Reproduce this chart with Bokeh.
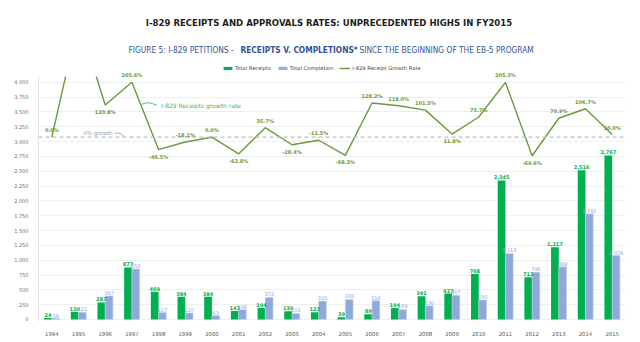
from bokeh.plotting import figure
from bokeh.models import (Range1d, ColumnDataSource, LabelSet, Label, Legend, LegendItem,
                          FixedTicker, NumeralTickFormatter, Span, BoxAnnotation)
from bokeh.transform import dodge
from bokeh.core.properties import value
from bokeh.embed import file_html
from bokeh.resources import INLINE

years = list(range(1994, 2016))
receipts = [24, 130, 287, 877, 469, 384, 384, 143, 194, 139, 123, 39, 89, 194, 391, 437,
            768, 2345, 712, 1217, 2516, 2767]
completions = [16, 121, 397, 853, 117, 110, 63, 166, 372, 102, 310, 338, 316, 169, 230, 407,
               330, 1113, 796, 888, 1781, 1078]
growth = [0.0, 441.7, 120.8, 205.6, -46.5, -18.1, 0.0, -62.8, 35.7, -28.4, -11.5, -68.3,
          128.2, 118.0, 101.5, 11.8, 75.7, 205.3, -69.6, 70.9, 106.7, 10.0]
# which side of the point the growth label sits on (1 above, -1 below, 0 hidden)
growth_side = [1, 0, -1, 1, -1, 1, 1, -1, 1, -1, 1, -1, 1, 1, 1, -1, 1, 1, -1, 1, 1, 1]
y_ticks = list(range(0, 4001, 250))

GREEN = "#00b050"
BLUE = "#8eaadb"
LINE = "#6a9a3e"
FONT = "DejaVu Sans"
NARROW = "DejaVu Sans Condensed"

Y0, Y1 = -34, 5379          # full canvas height is used as the frame
PLOT_TOP = 4098             # visible top of the data area
G0, GS = 3074, 4.5          # growth axis: 0% sits at 3074, 4.5 units per percent

p = figure(width=640, height=342, output_backend="svg", toolbar_location=None,
           x_range=Range1d(1993.5, 2015.5), y_range=Range1d(Y0, Y1),
           min_border_left=38, min_border_right=15, min_border_top=0, min_border_bottom=21)
p.extra_y_ranges = {"growth": Range1d((Y0 - G0) / GS, (Y1 - G0) / GS)}
p.outline_line_color = None
p.background_fill_color = "white"
p.border_fill_color = "white"

src = ColumnDataSource(dict(
    year=years, rec=receipts, comp=completions,
    rec_lbl=[f"{v:,}" for v in receipts], comp_lbl=[f"{v:,}" for v in completions],
))

r_rec = p.vbar(x=dodge("year", -0.145, range=p.x_range), top="rec", width=0.29, source=src,
               fill_color=GREEN, line_color=None)
r_comp = p.vbar(x=dodge("year", 0.145, range=p.x_range), top="comp", width=0.29, source=src,
                fill_color=BLUE, line_color="#c3d1ee", line_width=0.6)

# zero growth dashed reference
p.add_layout(Span(location=0, dimension="width", y_range_name="growth",
                  line_color="#bdbdbd", line_dash="4 3", line_width=1.3))

r_line = p.line(x=years, y=growth, y_range_name="growth", line_color=LINE, line_width=1.4)

# mask everything above the data area (header region)
p.add_layout(BoxAnnotation(bottom=PLOT_TOP, fill_color="white", fill_alpha=1, line_color=None))

p.add_layout(LabelSet(x=dodge("year", -0.145, range=p.x_range), y="rec", text="rec_lbl", source=src,
                      text_align="center", text_baseline="bottom", y_offset=1,
                      text_font=value(FONT), text_font_size="5px", text_font_style="bold",
                      text_color=GREEN))
p.add_layout(LabelSet(x=dodge("year", 0.145, range=p.x_range), y="comp", text="comp_lbl", source=src,
                      text_align="center", text_baseline="bottom", y_offset=1,
                      text_font=value(FONT), text_font_size="5px",
                      text_color="#8ea6d8"))

gsrc_up = ColumnDataSource(dict(
    year=[y for y, s in zip(years, growth_side) if s == 1],
    g=[g for g, s in zip(growth, growth_side) if s == 1],
    t=[f"{g:.1f}%" for g, s in zip(growth, growth_side) if s == 1]))
gsrc_dn = ColumnDataSource(dict(
    year=[y for y, s in zip(years, growth_side) if s == -1],
    g=[g for g, s in zip(growth, growth_side) if s == -1],
    t=[f"{g:.1f}%" for g, s in zip(growth, growth_side) if s == -1]))
for s, off in ((gsrc_up, 7), (gsrc_dn, -7)):
    p.add_layout(LabelSet(x="year", y="g", text="t", source=s, y_range_name="growth",
                          text_align="center", text_baseline="middle", y_offset=off,
                          text_font=value(FONT), text_font_size="5px", text_font_style="bold",
                          text_color=LINE))

# axes
p.yaxis.ticker = FixedTicker(ticks=y_ticks)
p.yaxis.formatter = NumeralTickFormatter(format="0,0")
p.yaxis.bounds = (Y0, PLOT_TOP)
p.yaxis.major_label_text_font = FONT
p.yaxis.major_label_text_font_size = "5px"
p.yaxis.major_label_text_color = "#707070"
p.yaxis.axis_line_color = "#e6e6e6"
p.yaxis.major_tick_line_color = None
p.yaxis.minor_tick_line_color = None
p.yaxis.major_label_standoff = 4

p.xaxis.ticker = FixedTicker(ticks=years)
p.xaxis.major_label_text_font = FONT
p.xaxis.major_label_text_font_size = "5.3px"
p.xaxis.major_label_text_color = "#555555"
p.xaxis.axis_line_color = None
p.xaxis.major_tick_line_color = None
p.xaxis.minor_tick_line_color = None
p.xaxis.major_label_standoff = 4

p.xgrid.grid_line_color = None
p.ygrid.ticker = FixedTicker(ticks=y_ticks)
p.ygrid.grid_line_color = "#eeeeee"
p.ygrid.grid_line_width = 1

# annotations
p.add_layout(Label(x=1995.73, y=3142, text="0% growth", text_font=FONT, text_font_size="5.5px",
                   text_color="#a0a0a0", text_align="center", text_baseline="middle"))
p.add_layout(Label(x=1998.1, y=3609, text="I-829 Receipts growth rate", text_font=FONT,
                   text_font_size="6px", text_color="#6aa84f", text_align="left",
                   text_baseline="middle"))
p.quadratic(x0=[1996.37], y0=[3142], x1=[1996.71], y1=[3074], cx=[1996.6], cy=[3160],
            line_color="#9a9a9a", line_width=0.8)
p.quadratic(x0=[1997.37], y0=[3626], x1=[1997.94], y1=[3609], cx=[1997.6], cy=[3690],
            line_color="#3cc08e", line_width=1)

# titles
p.add_layout(Label(x=292, y=299, x_units="screen", y_units="screen",
                   text="I-829 RECEIPTS AND APPROVALS RATES:  UNPRECEDENTED HIGHS IN FY2015",
                   text_font=NARROW, text_font_size="9.5px", text_font_style="bold",
                   text_color="#1e1e1e", text_align="center", text_baseline="middle"))
sub_parts = [("FIGURE 5: I-829 PETITIONS - ", "normal", 90),
             ("RECEIPTS V. COMPLETIONS*", "bold", 202),
             ("SINCE THE BEGINNING OF THE EB-5 PROGRAM", "normal", 321)]
for txt, st, xx in sub_parts:
    p.add_layout(Label(x=xx, y=272, x_units="screen", y_units="screen", text=txt,
                       text_font=NARROW, text_font_size="8.3px", text_font_style=st,
                       text_color="#2f5597", text_align="left", text_baseline="middle"))

legend = Legend(items=[LegendItem(label="Total Receipts", renderers=[r_rec]),
                       LegendItem(label="Total Completion", renderers=[r_comp]),
                       LegendItem(label="I-829 Receipt Growth Rate", renderers=[r_line])],
                orientation="horizontal", location=(184, 250),
                label_text_font=FONT, label_text_font_size="5.2px", label_text_color="#444444",
                glyph_width=11, glyph_height=4, label_height=5, label_standoff=2,
                spacing=6, padding=0, margin=0, border_line_color=None,
                background_fill_alpha=0)
p.add_layout(legend)

open("out.html", "w").write(file_html(p, INLINE))
